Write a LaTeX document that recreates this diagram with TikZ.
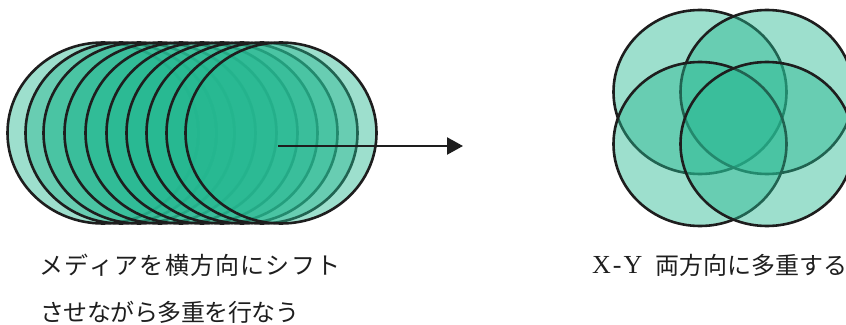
\documentclass[tikz,border=0pt]{standalone}
\usepackage{fontspec}
\setmainfont{Liberation Serif}
\newfontfamily\cjk{Noto Sans CJK JP}
\usetikzlibrary{shapes.geometric,arrows.meta}
\definecolor{media}{RGB}{38,184,145}
\definecolor{ink}{RGB}{30,30,30}
\tikzset{
  disc/.style={ellipse, draw=ink, line width=2.6pt, fill=media, fill opacity=0.45, draw opacity=1, inner sep=0pt},
  shiftdisc/.style={disc, minimum width=191pt, minimum height=181pt},
  xydisc/.style={disc, minimum width=173pt, minimum height=164pt},
  label/.style={inner sep=0pt, anchor=west, text=ink, font=\fontsize{24pt}{28pt}\selectfont},
  pointer/.style={draw=ink, line width=2.4pt, -{Triangle[length=16pt,width=17pt]}}
}
\begin{document}
\begin{tikzpicture}[x=1pt,y=-1pt]
\useasboundingbox (0,0) rectangle (846,324);
\begin{scope}
\clip (0,0) rectangle (846,324);
% left: shifted media
\foreach \i/\cx in {1/103,2/121,3/139,4/160,5/181,6/202,7/222,8/242,9/262,10/281}{
  \node[shiftdisc] (e\i) at (\cx,133) {};
}
% right: X-Y multiplexing
\node[xydisc] (tl) at (700,92) {};
\node[xydisc] (tr) at (767,92) {};
\node[xydisc] (bl) at (700,144) {};
\node[xydisc] (br) at (767,144) {};
\end{scope}
% arrow
\coordinate (from) at (278,146);
\coordinate (to) at (463,146);
\draw[pointer] (from) -- (to);
% texts
\node[label] (t1) at (39,265) {\cjk\makebox[301pt][s]{メ\hfil デ\hfil ィ\hfil ア\hfil を\hfil 横\hfil 方\hfil 向\hfil に\hfil シ\hfil フ\hfil ト}};
\node[label] (t2) at (40,312) {\cjk\addfontfeatures{LetterSpace=-2}させながら多重を行なう};
\node[label, font=\fontsize{26pt}{30pt}\selectfont] (t3) at (592,265) {X\kern2pt-\kern2pt Y};
\node[label] (t4) at (655,265) {\cjk\makebox[176pt][s]{両\hfil 方\hfil 向\hfil に\hfil 多\hfil 重\hfil す\hfil る}};
\end{tikzpicture}
\end{document}
